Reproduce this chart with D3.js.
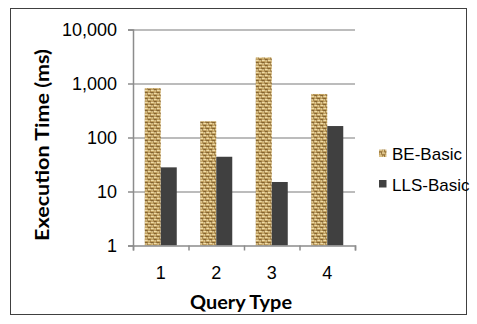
<!DOCTYPE html>
<html>
<head>
<meta charset="utf-8">
<script src="https://cdn.jsdelivr.net/npm/d3@7"></script>
<style>
  body { margin: 0; background: #fff; }
  svg { display: block; }
</style>
</head>
<body>
<div id="chart"></div>
<script>
// Chart data
var categories = ["1", "2", "3", "4"];
var seriesNames = ["BE-Basic", "LLS-Basic"];
var beBasic = [820, 200, 3050, 640];
var llsBasic = [28, 44, 15, 163];
var yTicks = [1, 10, 100, 1000, 10000];

// Page size
var width = 477;
var height = 324;

// Plot area
var plotLeft = 133;
var plotRight = 355;
var plotTop = 29.5;
var plotBottom = 245.5;

var svg = d3
  .select("#chart")
  .append("svg")
  .attr("width", width)
  .attr("height", height);

// Burlap style fill for BE-Basic
var defs = svg.append("defs");
var pat = defs
  .append("pattern")
  .attr("id", "burlap")
  .attr("width", 6)
  .attr("height", 6)
  .attr("patternUnits", "userSpaceOnUse");
pat.append("rect").attr("width", 6).attr("height", 6).attr("fill", "#c3a261");
var weave = [
  [0, 0, 3, 1, "#efdcaa"], [3, 3, 3, 1, "#efdcaa"],
  [0, 2, 3, 1, "#856430"], [3, 5, 3, 1, "#856430"],
  [4, 0, 1, 2, "#e2cc96"], [1, 3, 1, 2, "#e2cc96"],
  [5, 0, 1, 3, "#9c7b42"], [2, 3, 1, 2, "#9c7b42"]
];
weave.forEach(function(w) {
  pat.append("rect")
    .attr("x", w[0]).attr("y", w[1])
    .attr("width", w[2]).attr("height", w[3])
    .attr("fill", w[4]);
});

var colors = { "BE-Basic": "url(#burlap)", "LLS-Basic": "#404040" };

// Outer border
svg
  .append("rect")
  .attr("x", 10.5)
  .attr("y", 8.5)
  .attr("width", 456)
  .attr("height", 306)
  .attr("fill", "none")
  .attr("stroke", "#404040");

// Scales
var xScale = d3
  .scaleBand()
  .domain(categories)
  .range([plotLeft, plotRight])
  .paddingInner(0.423)
  .paddingOuter(0.2115);

var xSub = d3
  .scaleBand()
  .domain(seriesNames)
  .range([0, xScale.bandwidth()]);

var yScale = d3
  .scaleLog()
  .domain([1, 10000])
  .range([plotBottom, plotTop]);

// Gridlines
svg
  .append("g")
  .attr("transform", "translate(" + plotLeft + ",0)")
  .call(d3.axisLeft(yScale).tickValues(yTicks.slice(1)).tickSize(-(plotRight - plotLeft)).tickFormat(""))
  .call(function(g) { g.select(".domain").remove(); })
  .selectAll("line")
  .attr("stroke", "#a6a6a6")
  .attr("stroke-width", 1.5);

// Bars
var rows = categories.map(function(c, i) {
  return { cat: c, values: [
    { name: "BE-Basic", value: beBasic[i] },
    { name: "LLS-Basic", value: llsBasic[i] }
  ] };
});

var groups = svg
  .selectAll("g.cat")
  .data(rows)
  .enter()
  .append("g")
  .attr("class", "cat")
  .attr("transform", function(d) { return "translate(" + xScale(d.cat) + ",0)"; });

groups
  .selectAll("rect")
  .data(function(d) { return d.values; })
  .enter()
  .append("rect")
  .attr("x", function(d) { return xSub(d.name); })
  .attr("y", function(d) { return yScale(d.value); })
  .attr("width", xSub.bandwidth())
  .attr("height", function(d) { return plotBottom - yScale(d.value); })
  .attr("fill", function(d) { return colors[d.name]; });

// Y axis
var yAxis = svg
  .append("g")
  .attr("transform", "translate(" + plotLeft + ",0)")
  .call(d3.axisLeft(yScale).tickValues(yTicks).tickFormat(d3.format(",")).tickSize(5).tickPadding(11));

// X axis tick marks at category edges
var edgeScale = d3.scaleLinear().domain([0, 4]).range([plotLeft, plotRight]);
var xAxis = svg
  .append("g")
  .attr("transform", "translate(0," + plotBottom + ")")
  .call(d3.axisBottom(edgeScale).tickValues([0, 1, 2, 3, 4]).tickFormat("").tickSizeOuter(5).tickSize(5));

// X axis labels
svg
  .append("g")
  .attr("transform", "translate(0," + plotBottom + ")")
  .call(d3.axisBottom(xScale).tickSize(0).tickPadding(21))
  .call(function(g) { g.select(".domain").remove(); });

svg.selectAll(".domain, .tick line")
  .filter(function() { return d3.select(this).attr("stroke") === "currentColor"; })
  .attr("stroke", "#8c8c8c")
  .attr("stroke-width", 1.5);

svg.selectAll(".tick text")
  .attr("font-family", "Liberation Sans, Arial, sans-serif")
  .attr("font-size", "18px")
  .attr("fill", "#000");

// Axis titles
svg
  .append("text")
  .attr("x", 241)
  .attr("y", 308.5)
  .attr("text-anchor", "middle")
  .attr("font-family", "Lato, sans-serif")
  .attr("font-weight", "bold")
  .attr("font-size", "19px")
  .attr("textLength", 102)
  .attr("lengthAdjust", "spacingAndGlyphs")
  .text("Query Type");

svg
  .append("text")
  .attr("transform", "translate(48.5,145) rotate(-90)")
  .attr("text-anchor", "middle")
  .attr("font-family", "Lato, sans-serif")
  .attr("font-weight", "bold")
  .attr("font-size", "19px")
  .attr("textLength", 192)
  .attr("lengthAdjust", "spacingAndGlyphs")
  .text("Execution Time (ms)");

// Legend
var legend = svg
  .selectAll("g.legend")
  .data(seriesNames)
  .enter()
  .append("g")
  .attr("class", "legend")
  .attr("transform", function(d, i) { return "translate(379," + (149.5 + i * 30.5) + ")"; });

legend
  .append("rect")
  .attr("width", 7.5)
  .attr("height", 7.5)
  .attr("fill", function(d) { return colors[d]; });

legend
  .append("text")
  .attr("x", 13)
  .attr("y", 10.5)
  .attr("font-family", "Liberation Sans, Arial, sans-serif")
  .attr("font-size", "17px")
  .text(function(d) { return d; });
</script>
</body>
</html>
